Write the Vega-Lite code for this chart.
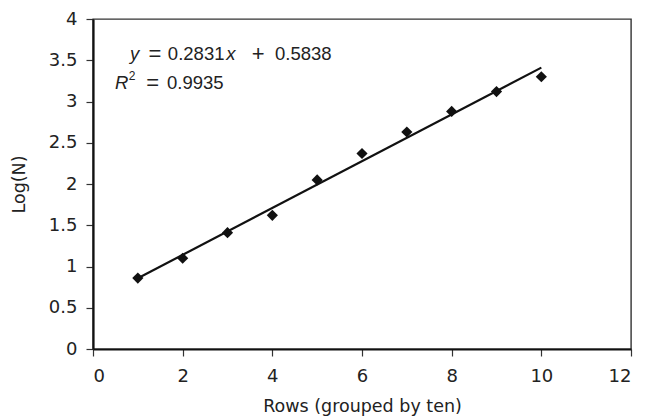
{
  "$schema": "https://vega.github.io/schema/vega-lite/v6.json",
  "width": 538,
  "height": 330,
  "autosize": {"type": "none"},
  "padding": {"left": 93, "top": 19, "right": 16, "bottom": 69},
  "background": "white",
  "config": {
    "font": "DejaVu Sans",
    "view": {"stroke": "#333", "strokeWidth": 1.4},
    "axis": {
      "grid": false,
      "domainColor": "#111",
      "domainWidth": 2.2,
      "tickColor": "#333",
      "tickSize": 7,
      "tickWidth": 1.2,
      "labelFont": "DejaVu Sans",
      "labelFontSize": 18,
      "labelColor": "#222",
      "titleFont": "DejaVu Sans",
      "titleFontSize": 17.5,
      "titleFontWeight": "normal",
      "titleColor": "#222"
    }
  },
  "layer": [
    {
      "data": {"values": [
        {"row": 1, "logN": 0.86},
        {"row": 2, "logN": 1.10},
        {"row": 3, "logN": 1.41},
        {"row": 4, "logN": 1.62},
        {"row": 5, "logN": 2.05},
        {"row": 6, "logN": 2.37},
        {"row": 7, "logN": 2.63},
        {"row": 8, "logN": 2.88},
        {"row": 9, "logN": 3.12},
        {"row": 10, "logN": 3.30}
      ]},
      "layer": [
        {
          "mark": {"type": "point", "shape": "diamond", "filled": true, "color": "#111", "opacity": 1, "size": 125},
          "encoding": {
            "x": {"field": "row", "type": "quantitative", "scale": {"domain": [0, 12], "nice": false}, "axis": {"values": [0, 2, 4, 6, 8, 10, 12], "format": "~g", "title": "Rows (grouped by ten)", "labelPadding": 11, "titlePadding": 12}},
            "y": {"field": "logN", "type": "quantitative", "scale": {"domain": [0, 4], "nice": false}, "axis": {"values": [0, 0.5, 1, 1.5, 2, 2.5, 3, 3.5, 4], "format": "~g", "title": "Log(N)", "labelPadding": 9, "titlePadding": 20}}
          }
        },
        {
          "transform": [{"regression": "logN", "on": "row"}],
          "mark": {"type": "line", "color": "#111", "strokeWidth": 2.2},
          "encoding": {
            "x": {"field": "row", "type": "quantitative"},
            "y": {"field": "logN", "type": "quantitative"}
          }
        }
      ]
    },
    {
      "data": {"values": [
        {"x": 0.825, "y": 3.57, "t": "y"},
        {"x": 2.97, "y": 3.57, "t": "x"},
        {"x": 0.49, "y": 3.22, "t": "R"}
      ]},
      "mark": {"type": "text", "align": "left", "baseline": "middle", "fontSize": 18.5, "fontStyle": "italic", "color": "#222", "font": "Liberation Sans"},
      "encoding": {
        "x": {"field": "x", "type": "quantitative"},
        "y": {"field": "y", "type": "quantitative"},
        "text": {"field": "t"}
      }
    },
    {
      "data": {"values": [
        {"x": 1.67, "y": 3.57, "t": "0.2831"},
        {"x": 4.06, "y": 3.57, "t": "0.5838"},
        {"x": 1.65, "y": 3.22, "t": "0.9935"}
      ]},
      "mark": {"type": "text", "align": "left", "baseline": "middle", "fontSize": 18.5, "color": "#222", "font": "Liberation Sans"},
      "encoding": {
        "x": {"field": "x", "type": "quantitative"},
        "y": {"field": "y", "type": "quantitative"},
        "text": {"field": "t"}
      }
    },
    {
      "data": {"values": [
        {"x": 1.24, "y": 3.57, "t": "="},
        {"x": 3.54, "y": 3.57, "t": "+"},
        {"x": 1.19, "y": 3.22, "t": "="}
      ]},
      "mark": {"type": "text", "align": "left", "baseline": "middle", "fontSize": 22, "color": "#222", "font": "Liberation Sans"},
      "encoding": {
        "x": {"field": "x", "type": "quantitative"},
        "y": {"field": "y", "type": "quantitative"},
        "text": {"field": "t"}
      }
    },
    {
      "data": {"values": [
        {"x": 0.8, "y": 3.31, "t": "2"}
      ]},
      "mark": {"type": "text", "align": "left", "baseline": "middle", "fontSize": 12, "color": "#222", "font": "Liberation Sans"},
      "encoding": {
        "x": {"field": "x", "type": "quantitative"},
        "y": {"field": "y", "type": "quantitative"},
        "text": {"field": "t"}
      }
    }
  ]
}
